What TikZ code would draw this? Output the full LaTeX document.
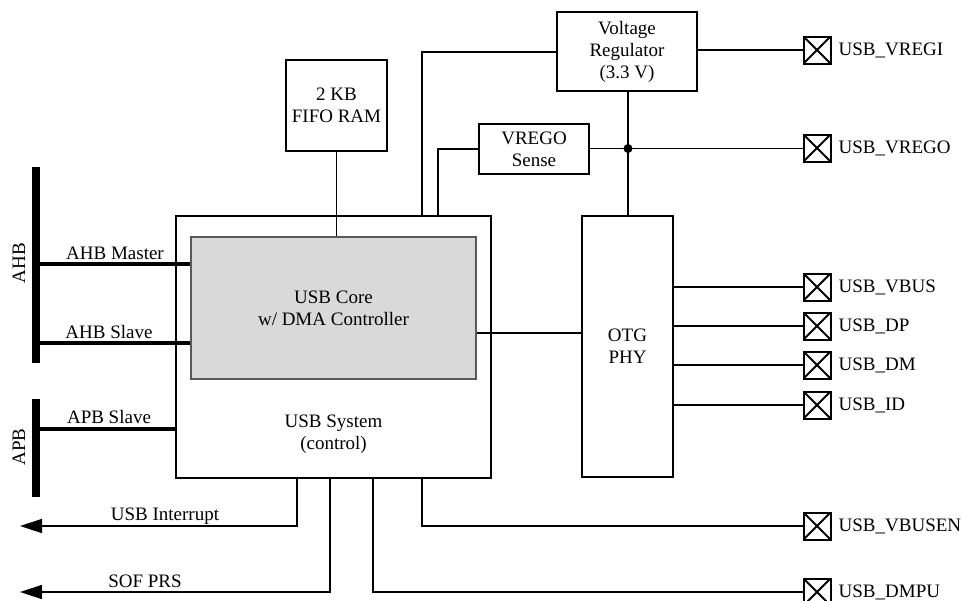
\documentclass[tikz,border=0pt]{standalone}
\usepackage{fontspec}
\setmainfont{Liberation Serif}
\usetikzlibrary{arrows.meta}
\begin{document}
\begin{tikzpicture}[x=1pt,y=-1pt,
  font=\fontsize{19}{22}\selectfont,
  blk/.style={draw, line width=2pt, align=center, inner sep=0pt},
  wire/.style={line width=1.5pt},
  bus/.style={fill=black, inner sep=0pt, minimum width=8pt},
  pad/.style={draw, line width=2pt, minimum size=27pt, inner sep=0pt,
    path picture={\draw[line width=2pt]
      (path picture bounding box.south west) -- (path picture bounding box.north east)
      (path picture bounding box.north west) -- (path picture bounding box.south east);}},
  padlbl/.style={anchor=west, inner sep=0pt, xshift=7pt},
  lbl/.style={anchor=base, inner sep=0pt},
  outarrow/.style={wire, -{Triangle[length=22pt,width=14pt]}}
]
\useasboundingbox (0,0) rectangle (963,600);

% buses
\node[bus, minimum height=196pt] (ahb) at (36,265) {};
\node[bus, minimum height=98pt] (apb) at (36,448) {};
\node[rotate=90] (ahblbl) at (19,263) {AHB};
\node[rotate=90] (apblbl) at (19,447) {APB};

% blocks
\node[blk, minimum width=315pt, minimum height=262pt] (sys) at (333.5,347) {};
\node[draw=black!65, line width=1.2pt, fill=black!15, minimum width=285pt, minimum height=142pt, align=center, inner sep=0pt] (core) at (333.5,308) {USB Core\\w/ DMA Controller};
\node[align=center, inner sep=0pt] (systxt) at (333.5,434) {USB System\\(control)};
\node[blk, minimum width=101pt, minimum height=91pt] (fifo) at (336.5,105.5) {2 KB\\FIFO RAM};
\node[blk, minimum width=140pt, minimum height=79pt] (vreg) at (627,51.5) {Voltage\\Regulator\\(3.3 V)};
\node[blk, minimum width=110pt, minimum height=50pt] (vsense) at (534,149) {VREGO\\Sense};
\node[blk, minimum width=91pt, minimum height=261pt] (otg) at (627.5,346.5) {OTG\\PHY};

% pads
\node[pad] (pvregi) at (817,50) {};
\node[pad] (pvrego) at (817,148) {};
\node[pad] (pvbus) at (817,287) {};
\node[pad] (pdp) at (817,326) {};
\node[pad] (pdm) at (817,365) {};
\node[pad] (pid) at (817,405) {};
\node[pad] (pvbusen) at (817,526) {};
\node[pad] (pdmpu) at (817,592) {};
\node[padlbl] (lvregi) at (pvregi.east) {USB\_VREGI};
\node[padlbl] (lvrego) at (pvrego.east) {USB\_VREGO};
\node[padlbl] (lvbus) at (pvbus.east) {USB\_VBUS};
\node[padlbl] (ldp) at (pdp.east) {USB\_DP};
\node[padlbl] (ldm) at (pdm.east) {USB\_DM};
\node[padlbl] (lid) at (pid.east) {USB\_ID};
\node[padlbl] (lvbusen) at (pvbusen.east) {USB\_VBUSEN};
\node[padlbl] (ldmpu) at (pdmpu.east) {USB\_DMPU};

% bus connections
\draw[line width=4.5pt] (ahb.east |- 0,264) -- (core.west |- 0,264);
\draw[line width=4.5pt] (ahb.east |- 0,343) -- (core.west |- 0,343);
\draw[line width=3.5pt] (apb.east |- 0,429) -- (sys.west |- 0,429);
\node[lbl] (lmaster) at (115,259) {AHB Master};
\node[lbl] (lslave) at (109,338) {AHB Slave};
\node[lbl] (lapb) at (109,423) {APB Slave};

% internal connections
\draw[wire] (fifo.south) -- (core.north -| fifo.south);
\draw[wire] (vreg.west |- 0,52) -- (422,52) -- (sys.north -| 422,0);
\draw[wire] (vsense.west) -- (438,149) -- (sys.north -| 438,0);
\draw[wire] (vreg.south -| 628,0) -- (otg.north -| 628,0);
\node[circle, fill=black, inner sep=0pt, minimum size=9pt] (jn) at (628,148.5) {};
\draw[wire] (vsense.east |- jn) -- (pvrego.west |- jn);
\draw[wire] (vreg.east |- pvregi) -- (pvregi.west);
\draw[wire] (core.east |- 0,333) -- (otg.west |- 0,333);
\draw[wire] (otg.east |- pvbus) -- (pvbus.west);
\draw[wire] (otg.east |- pdp) -- (pdp.west);
\draw[wire] (otg.east |- pdm) -- (pdm.west);
\draw[wire] (otg.east |- pid) -- (pid.west);

% bottom connections
\coordinate (intend) at (20,526);
\coordinate (sofend) at (20,592);
\draw[outarrow] (sys.south -| 297,0) -- (297,526) -- (intend);
\draw[outarrow] (sys.south -| 330,0) -- (330,592) -- (sofend);
\draw[wire] (sys.south -| 373,0) -- (373,592) -- (pdmpu.west);
\draw[wire] (sys.south -| 422,0) -- (422,526) -- (pvbusen.west);
\node[lbl] (lint) at (165,520) {USB Interrupt};
\node[lbl] (lsof) at (145,587) {SOF PRS};
\end{tikzpicture}
\end{document}
